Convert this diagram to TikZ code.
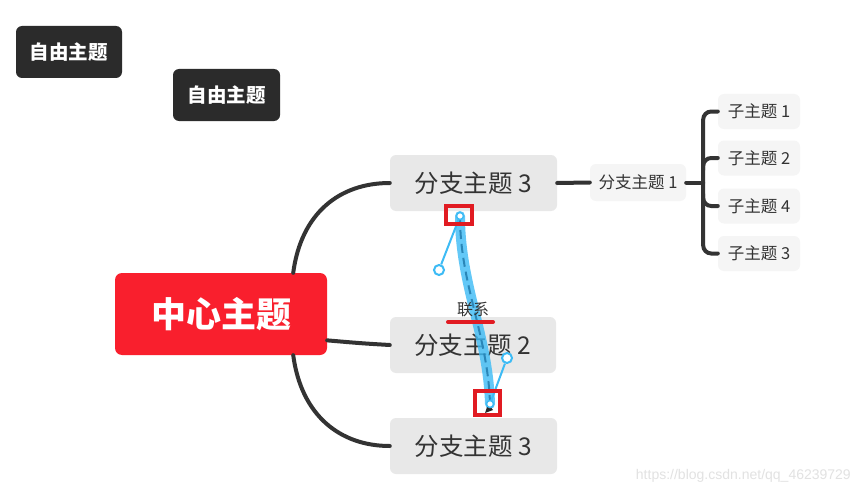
\documentclass[tikz,border=0pt]{standalone}
\usepackage{fontspec}
\setmainfont{Noto Sans CJK SC}
\newfontfamily\cjk{Noto Sans CJK SC}
\usetikzlibrary{calc,arrows.meta}
\definecolor{darkbox}{HTML}{2B2B2B}
\definecolor{redbox}{HTML}{F91F2D}
\definecolor{branchbox}{HTML}{E8E8E8}
\definecolor{subbox}{HTML}{F5F5F5}
\definecolor{linec}{HTML}{333333}
\definecolor{textc}{HTML}{333333}
\definecolor{relblue}{HTML}{3DBBF5}
\definecolor{reldash}{HTML}{2A86B8}
\definecolor{markred}{HTML}{E11B22}
\definecolor{wm}{HTML}{E2E2E2}
\begin{document}
\begin{tikzpicture}[x=1pt,y=-1pt,
  freebox/.style={fill=darkbox, rounded corners=6pt, text=white, inner sep=0pt,
    font=\cjk\bfseries\fontsize{19.5}{19.5}\selectfont},
  centerbox/.style={fill=redbox, rounded corners=7pt, text=white, inner sep=0pt,
    minimum width=212pt, minimum height=82pt, font=\cjk\bfseries\fontsize{35}{35}\selectfont},
  branchnode/.style={fill=branchbox, rounded corners=6pt, text=textc, inner sep=0pt,
    minimum height=56pt, font=\cjk\fontsize{24.5}{24.5}\selectfont},
  subnode/.style={fill=subbox, rounded corners=6pt, text=textc, inner sep=0pt,
    minimum width=96pt, minimum height=37pt, font=\cjk\fontsize{16.5}{16.5}\selectfont},
  childnode/.style={fill=subbox, rounded corners=6pt, text=textc, inner sep=0pt,
    minimum width=82pt, minimum height=35pt, font=\cjk\fontsize{16.5}{16.5}\selectfont},
  conn/.style={draw=linec, line width=4pt, line cap=round},
  relband/.style={draw=relblue, line width=10pt, opacity=0.8, line cap=round},
  reldashed/.style={draw=reldash, line width=2pt, dash pattern=on 9pt off 5pt},
  handle/.style={draw=relblue, line width=2pt},
  handledot/.style={draw=relblue, fill=white, line width=2pt, circle, inner sep=0pt, minimum size=10pt},
  marker/.style={draw=markred, line width=4pt}
]
\useasboundingbox (0,0) rectangle (860,495);
\fill[white] (0,0) rectangle (860,495);

% free topics
\node[freebox, minimum width=106pt, minimum height=52pt] (f1) at (69,52) {自由主题};
\node[freebox, minimum width=107pt, minimum height=52pt] (f2) at (226.5,95) {自由主题};

% center and branches
\node[centerbox] (c) at (221,314) {中心主题};
\node[branchnode, minimum width=167pt] (b3) at (473.5,183) {分支主题 3};
\node[branchnode, minimum width=166pt] (b2) at (473,345) {分支主题 2};
\node[branchnode, minimum width=167pt] (b3b) at (473.5,446) {分支主题 3};
\node[subnode] (s1) at (638,182.5) {分支主题 1};

\node[childnode] (k1) at (759,111.5) {子主题 1};
\node[childnode] (k2) at (759,158) {子主题 2};
\node[childnode] (k4) at (759,206) {子主题 4};
\node[childnode] (k3) at (759,253.5) {子主题 3};

% connectors from center
\coordinate (ctop) at ($(c.north west)!0.84!(c.north east)$);
\coordinate (cbot) at ($(c.south west)!0.84!(c.south east)$);
\coordinate (cmid) at ($(c.north east)!0.82!(c.south east)$);
\draw[conn] (ctop) .. controls ($(ctop)+(8,-60)$) and ($(b3.west)+(-50,0)$) .. (b3.west);
\draw[conn] (cmid) .. controls ($(cmid)+(35,3)$) .. (b2.west);
\draw[conn] (cbot) .. controls ($(cbot)+(8,60)$) and ($(b3b.west)+(-50,0)$) .. (b3b.west);
\draw[conn] (b3.east) -- (s1.west);

% bracket to children
\coordinate (bx) at ($(s1.east)+(17,0)$);
\draw[conn] (s1.east) -- (bx);
\draw[conn, rounded corners=8pt] (k1.west) -- (k1.west -| bx) -- (k3.west -| bx) -- (k3.west);
\draw[conn, rounded corners=8pt] (k2.west) -- (k2.west -| bx) -- ($(k2.west -| bx)+(0,12)$);
\draw[conn, rounded corners=8pt] (k4.west) -- (k4.west -| bx) -- ($(k4.west -| bx)+(0,-12)$);

% relationship
\coordinate (ra) at (460,216);
\coordinate (rb) at (490,404);
\draw[relband] (ra) .. controls (460,285) and (488,335) .. (rb);
\draw[reldashed] (ra) .. controls (460,285) and (488,335) .. (rb);
\node[handledot] (h1) at (439,270) {};
\node[handledot] (h2) at (507,358) {};
\draw[handle] (ra) -- (h1);
\draw[handle] (rb) -- (h2);
\fill[black!85] (485,413) -- (488,404) -- (493,410) -- cycle;
\node[handledot, minimum size=7pt, line width=1.5pt] (ea) at (ra) {};
\node[handledot, minimum size=7pt, line width=1.5pt] (eb) at (rb) {};
\node[font=\cjk\fontsize{16}{16}\selectfont, text=textc, inner sep=0pt] (lbl) at (473,310) {联系};
\draw[markred, line width=4pt, line cap=round] (448,322) -- (493,322);
\draw[marker] (446,206) rectangle (472,224);
\draw[marker] (475,391) rectangle (500,415);

% watermark
\node[font=\fontspec{Liberation Sans}\fontsize{14}{14}\selectfont, text=wm, anchor=east, inner sep=0pt] (wmk) at (851,476) {https://blog.csdn.net/qq\_46239729};
\end{tikzpicture}
\end{document}
